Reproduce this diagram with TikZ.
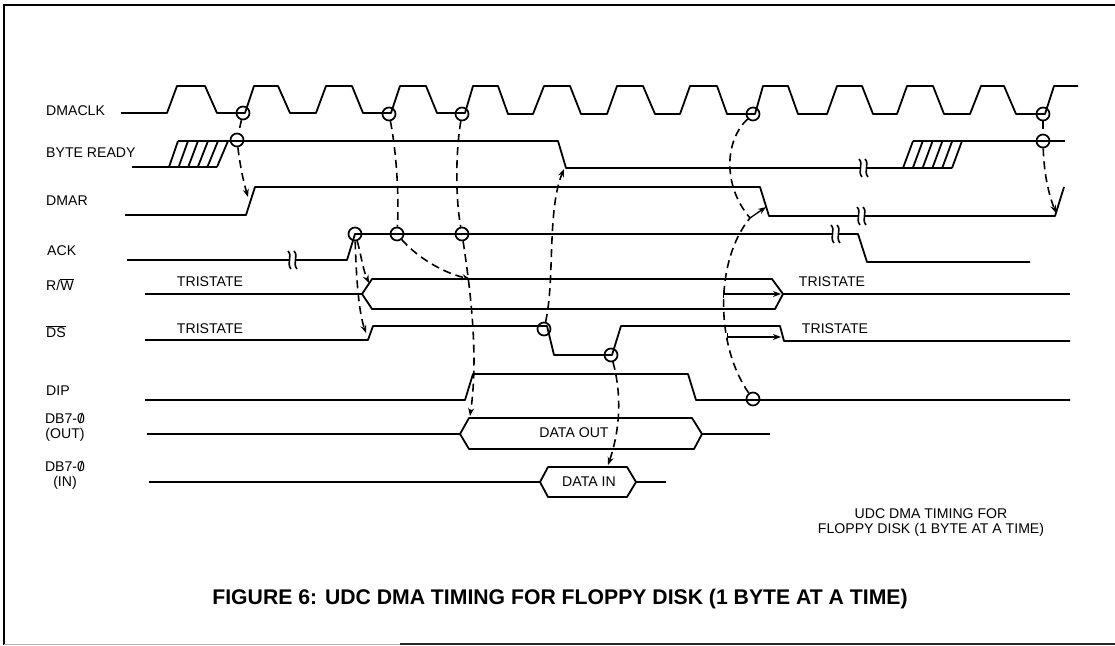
\documentclass[tikz,border=0pt]{standalone}
\usepackage{fontspec}
\setmainfont{Liberation Sans}
\usetikzlibrary{arrows.meta}
\newcommand{\slashzero}{\ooalign{0\cr\hfil/\hfil\cr}}
\begin{document}
\begin{tikzpicture}
[
    x=1pt, y=-1pt,
    >={Stealth[length=8pt,width=6pt]},
    wave/.style={line width=1.8pt, line join=round, black},
    ring/.style={draw, circle, line width=1.7pt, inner sep=0pt, minimum size=13pt},
    dep/.style={line width=1.6pt, dash pattern=on 8pt off 5pt},
    lbl/.style={inner sep=0pt, font=\fontsize{14.1}{15}\selectfont},
    brk/.pic={
        \fill [white] (-3,-5) rectangle (3,5);
        \draw [line width=1.6pt] (-4,-9) .. controls (1,-4) and (-6,3) .. (-1,9);
        \draw [line width=1.6pt] (2,-9) .. controls (7,-4) and (0,3) .. (5,9);
    }
]
    \useasboundingbox (0,0) rectangle (1115,645);
    \draw [line width=1.6pt] (1115,5) -- (4,5) -- (4,645);
    \draw [line width=1pt, black!30] (4,644) -- (400,644);
    \draw [line width=1.6pt, black!85] (400,644) -- (1115,644);

    % signal names
    \node [lbl, anchor=west] (nameClk) at (46,111) {DMACLK};
    \node [lbl, anchor=west] (nameByte) at (46,153) {BYTE READY};
    \node [lbl, anchor=west] (nameDmar) at (46,201) {DMAR};
    \node [lbl, anchor=west] (nameAck) at (47,251) {ACK};
    \node [lbl, anchor=west] (nameRw) at (46,285) {R/$\overline{\mbox{W}}$};
    \node [lbl, anchor=west] (nameDs) at (46,332) {$\overline{\mbox{DS}}$};
    \node [lbl, anchor=west] (nameDip) at (46,391) {DIP};
    \node [lbl, align=center] (nameOut) at (65,428) {DB7-\slashzero\\(OUT)};
    \node [lbl, align=center] (nameIn) at (65,476) {DB7-\slashzero\\(IN)};

    % clock
    \draw [wave] (121,113) -- (167,113) -- (177,86) -- (205,86) -- (217,113) -- (245,113)
        -- (254,86) -- (278,86) -- (290,113) -- (316,113) -- (326,86) -- (352,86) -- (363,113)
        -- (391,113) -- (400,86) -- (426,86) -- (437,113) -- (465,113) -- (473,86) -- (498,86)
        -- (508,114) -- (533,114) -- (544,86) -- (570,86) -- (581,114) -- (607,114) -- (617,86)
        -- (643,86) -- (655,114) -- (680,114) -- (690,86) -- (717,86) -- (727,114) -- (755,114)
        -- (763,86) -- (788,86) -- (798,114) -- (827,114) -- (837,86) -- (862,86) -- (873,114)
        -- (897,114) -- (907,86) -- (933,86) -- (944,114) -- (970,114) -- (981,86) -- (1004,86)
        -- (1016,114) -- (1045,114) -- (1054,86) -- (1078,86);

    % byte ready
    \draw [wave] (132,167) -- (217,167);
    \draw [wave] (178,141) -- (558,141) -- (566,168) -- (903,168) -- (952,168);
    \draw [wave] (913,141) -- (1065,141);
    \foreach \i in {0,...,5}
        \draw [wave] ({169+\i*9.6},167) -- ({178+\i*10},141);
    \foreach \i in {0,...,5}
        \draw [wave] ({903+\i*9.8},168) -- ({913+\i*9.8},141);
    \pic at (863,168) {brk};

    % dmar
    \draw [wave] (125,215) -- (246,215) -- (255,187) -- (760,187) -- (769,216) -- (1055,216) -- (1064,187);
    \pic at (861,216) {brk};

    % ack
    \draw [wave] (127,260) -- (347,260) -- (355,234) -- (858,234) -- (867,262) -- (1030,262);
    \pic at (292,260) {brk};
    \pic at (835,234) {brk};

    % r/w
    \draw [wave] (145,294) -- (362,294);
    \draw [wave] (362,294) -- (372,279) -- (772,279) -- (783,294) -- (775,309) -- (372,309) -- cycle;
    \draw [wave] (783,294) -- (1070,294);
    \node [lbl] (triRwA) at (210,282) {TRISTATE};
    \node [lbl] (triRwB) at (832,282) {TRISTATE};

    % ds
    \draw [wave] (145,340) -- (368,340) -- (373,326) -- (547,326) -- (554,355) -- (612,355) -- (621,326)
        -- (780,326) -- (784,341) -- (1070,341);
    \node [lbl] (triDsA) at (210,329) {TRISTATE};
    \node [lbl] (triDsB) at (835,329) {TRISTATE};

    % dip
    \draw [wave] (145,400) -- (465,400) -- (473,374) -- (688,374) -- (696,400) -- (1070,400);

    % data out and data in
    \draw [wave] (147,434) -- (460,434) -- (469,418) -- (692,418) -- (702,434) -- (694,449) -- (469,449) -- (460,434);
    \draw [wave] (702,434) -- (770,434);
    \node [lbl] (dataOut) at (574,433) {DATA OUT};
    \draw [wave] (149,482) -- (540,482) -- (548,467) -- (627,467) -- (636,482) -- (627,497) -- (548,497) -- (540,482);
    \draw [wave] (636,482) -- (666,482);
    \node [lbl] (dataIn) at (589,482) {DATA IN};

    % rings
    \node [ring] (clkA) at (243,113) {};
    \node [ring] (clkB) at (389,114) {};
    \node [ring] (clkC) at (462,114) {};
    \node [ring] (clkD) at (753,114) {};
    \node [ring] (clkE) at (1043,114) {};
    \node [ring] (byteA) at (237,140) {};
    \node [ring] (byteB) at (1043,141) {};
    \node [ring] (ackA) at (355,234) {};
    \node [ring] (ackB) at (397,234) {};
    \node [ring] (ackC) at (462,234) {};
    \node [ring] (dsA) at (544,329) {};
    \node [ring] (dsB) at (611,355) {};
    \node [ring] (dipA) at (753,399) {};

    % arrow ends
    \coordinate (dmarUp) at (248,197);
    \coordinate (rwUp) at (369,283);
    \coordinate (rwMid) at (470,279);
    \coordinate (dsUp) at (366,333);
    \coordinate (outUp) at (470,416);
    \coordinate (inUp) at (608,465);
    \coordinate (byteDn) at (564,169);
    \coordinate (dmarKnee) at (750,218);
    \coordinate (dmarDn) at (766,207);
    \coordinate (dmarEnd) at (1056,213);
    \coordinate (holdA) at (723,294);
    \coordinate (holdB) at (781,294);
    \coordinate (holdC) at (727,337);
    \coordinate (holdD) at (781,337);

    % dashed dependencies
    \draw [dep] (clkA) -- (byteA);
    \draw [dep, ->] (byteA) .. controls (240,165) and (243,180) .. (dmarUp);
    \draw [dep] (clkB) .. controls (397,155) and (399,200) .. (ackB);
    \draw [dep] (clkC) .. controls (456,150) and (455,195) .. (ackC);
    \draw [dep, ->] (ackA) .. controls (360,250) and (363,270) .. (rwUp);
    \draw [dep, ->] (ackA) .. controls (356,270) and (358,310) .. (dsUp);
    \draw [dep, ->] (ackB) .. controls (415,255) and (440,272) .. (rwMid);
    \draw [dep, ->] (ackC) .. controls (472,300) and (478,360) .. (outUp);
    \draw [dep, ->] (dsA) .. controls (555,280) and (547,210) .. (byteDn);
    \draw [dep, ->] (dsB) .. controls (622,395) and (620,430) .. (inUp);
    \draw [dep] (clkD) .. controls (725,140) and (722,185) .. (dmarKnee);
    \draw [dep] (dipA) .. controls (715,345) and (715,260) .. (dmarKnee);
    \draw [dep] (clkE) -- (byteB);
    \draw [dep, ->] (byteB) .. controls (1044,175) and (1049,195) .. (dmarEnd);

    % solid arrows
    \draw [line width=1.3pt, ->] (dmarKnee) -- (dmarDn);
    \draw [line width=1.3pt, |->] (holdA) -- (holdB);
    \draw [line width=1.3pt, |->] (holdC) -- (holdD);

    % notes
    \node [lbl, align=center] (note) at (931,522.5) {UDC DMA TIMING FOR\\FLOPPY DISK (1 BYTE AT A TIME)};
    \node [inner sep=0pt, font=\fontsize{21.2}{23}\selectfont\bfseries] (title) at (560,599) {FIGURE 6: UDC DMA TIMING FOR FLOPPY DISK (1 BYTE AT A TIME)};
\end{tikzpicture}
\end{document}
